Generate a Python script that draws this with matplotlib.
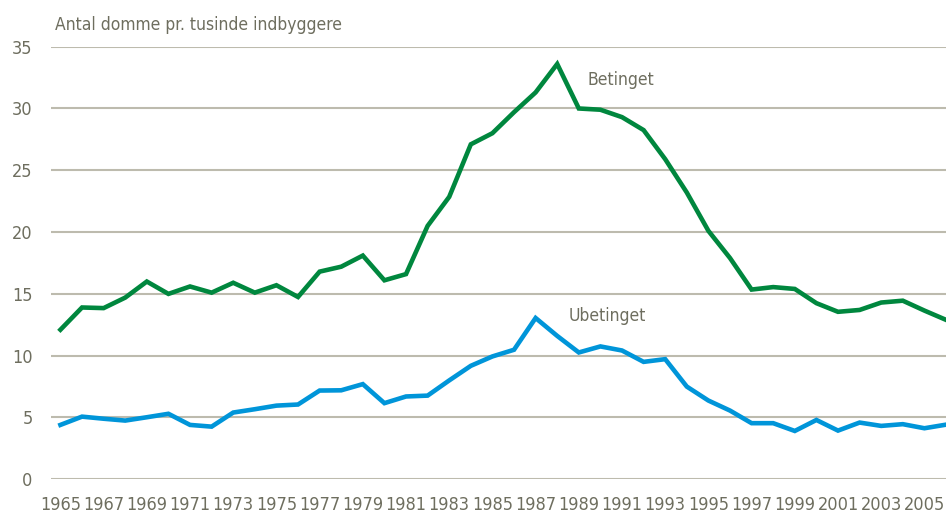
import matplotlib
matplotlib.use('Agg')
import matplotlib.pyplot as plt
from matplotlib import font_manager

# Convictions per thousand inhabitants
years = list(range(1965, 2007))
betinget = [12.1, 13.9, 13.85, 14.7, 16.0, 15.0, 15.6, 15.1, 15.9, 15.1,
            15.7, 14.75, 16.8, 17.2, 18.1, 16.1, 16.6, 20.5, 22.85, 27.1,
            28.0, 29.7, 31.3, 33.6, 30.0, 29.9, 29.3, 28.25, 25.9, 23.2,
            20.1, 17.9, 15.35, 15.55, 15.4, 14.25, 13.55, 13.7, 14.3, 14.45,
            13.65, 12.9]
ubetinget = [4.4, 5.07, 4.9, 4.75, 5.02, 5.3, 4.4, 4.26, 5.4, 5.67,
             5.96, 6.05, 7.18, 7.2, 7.7, 6.16, 6.7, 6.77, 8.0, 9.18,
             9.94, 10.48, 13.05, 11.6, 10.26, 10.75, 10.42, 9.5, 9.72, 7.5,
             6.37, 5.56, 4.54, 4.54, 3.91, 4.8, 3.94, 4.59, 4.32, 4.46,
             4.13, 4.42]
xtick_years = list(range(1965, 2006, 2))
yticks = [0, 5, 10, 15, 20, 25, 30, 35]

text_col = '#6e6e5f'
grid_col = '#bdbbae'

# look for a condensed face, otherwise use Liberation Sans a bit smaller
condensed = [f for f in font_manager.fontManager.ttflist
             if 'Condensed' in f.fname or 'Narrow' in f.fname]
if condensed:
    fam = condensed[0].name
    stretch = condensed[0].stretch
    size = 13
else:
    fam = 'Liberation Sans'
    stretch = 'normal'
    size = 12.5
plt.rcParams['font.family'] = [fam, 'DejaVu Sans']
plt.rcParams['font.stretch'] = stretch

fig = plt.figure(figsize=(9.46, 5.13), dpi=100)
ax = fig.add_axes([0.0536, 0.0657, 0.9464, 0.8433])

ax.plot(years, betinget, color='#00873e', lw=3.3, solid_joinstyle='miter', zorder=3)
ax.plot(years, ubetinget, color='#0095d9', lw=3.3, solid_joinstyle='miter', zorder=3)

ax.set_xlim(1964.55, 2006)
ax.set_ylim(0, 35)
ax.set_yticks(yticks)
ax.set_xticks(xtick_years)
ax.yaxis.grid(True, color=grid_col, lw=1.5)
ax.set_axisbelow(True)
for s in ax.spines.values():
    s.set_visible(False)
ax.tick_params(axis='both', length=0, labelsize=size, labelcolor=text_col)
ax.tick_params(axis='y', pad=13)
ax.tick_params(axis='x', pad=12)

ax.text(1989.4, 32.3, 'Betinget', fontsize=size - 0.5, color=text_col, va='center', ha='left')
ax.text(1988.55, 13.2, 'Ubetinget', fontsize=size - 0.5, color=text_col, va='center', ha='left')
fig.text(0.058, 0.951, 'Antal domme pr. tusinde indbyggere', fontsize=size - 0.5,
         color=text_col, va='center', ha='left')

fig.savefig('out.png', dpi=100)
